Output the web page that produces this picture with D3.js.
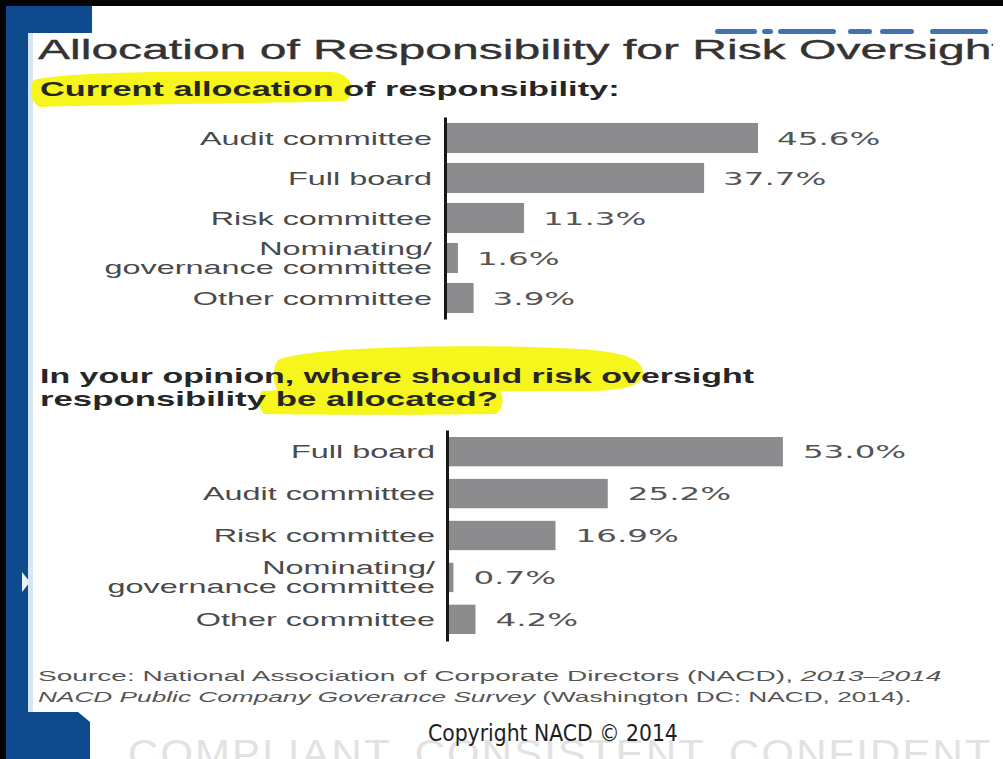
<!DOCTYPE html>
<html><head><meta charset="utf-8">
<script src="https://cdn.jsdelivr.net/npm/d3@7"></script>
<style>html,body{margin:0;padding:0;background:#fff;overflow:hidden}</style>
</head><body>
<svg id="c" width="1003" height="759"></svg>
<script>
// ---------- data ----------
const titleText = "Allocation of Responsibility for Risk Oversight";
const subtitle1 = "Current allocation of responsibility:";
const subtitle2Lines = ["In your opinion, where should risk oversight", "responsibility be allocated?"];
const currentCategories = ["Audit committee", "Full board", "Risk committee", "Nominating/\ngovernance committee", "Other committee"];
const currentValues = [45.6, 37.7, 11.3, 1.6, 3.9];
const preferredCategories = ["Full board", "Audit committee", "Risk committee", "Nominating/\ngovernance committee", "Other committee"];
const preferredValues = [53.0, 25.2, 16.9, 0.7, 4.2];
const sourceLine1 = [["Source: National Association of Corporate Directors (NACD), ", false], ["2013\u20132014", true]];
const sourceLine2 = [["NACD Public Company Goverance Survey", true], [" (Washington DC: NACD, 2014).", false]];
const copyrightText = "Copyright NACD \u00A9 2014";
const watermarkText = "COMPLIANT.  CONSISTENT.  CONFIDENT";

const svg = d3.select("#c");
const SANS = "'Liberation Sans', Arial, Helvetica, sans-serif";
const BLUE = "#0d4b8e";

// ---------- background / frame ----------
svg.append("rect").attr("width", 1003).attr("height", 759).attr("fill", "#fff");
svg.append("rect").attr("x", 28).attr("y", 33).attr("width", 5).attr("height", 679).attr("fill", "#d6e6f4");

function fit(sel, x, y, targetW) {
  const w = sel.node().getBBox().width;
  sel.attr("transform", `translate(${x},${y}) scale(${targetW / w},1)`);
  return sel;
}
// watermark
const wm = svg.append("text").attr("font-family", SANS).attr("font-size", 38).attr("fill", "#e2e2e2")
  .attr("letter-spacing", 2).text(watermarkText);
fit(wm, 128, 767, 865);

// ---------- highlights ----------
const hl = svg.append("g").attr("fill", "#f6f51c");
hl.append("path").attr("d", "M34,80 C70,71 200,71 332,72 C354,74 357,95 345,101 C250,104 120,104 40,107 C30,103 29,87 34,80 Z");
hl.append("path").attr("d", "M278,360 C300,349 420,344 530,347 C610,349 642,354 643,372 C644,388 620,392 560,391 C450,392 350,393 280,393 C272,386 272,368 278,360 Z");
hl.append("path").attr("d", "M262,391 C330,388 440,388 499,390 C505,397 503,410 496,414 C420,415 330,415 264,414 C257,406 257,397 262,391 Z");

// ---------- title ----------
svg.append("clipPath").attr("id", "tclip").append("rect").attr("x", 0).attr("y", 0).attr("width", 993).attr("height", 100);
const logoSegs = [[715, 757], [762, 773], [778, 836], [848, 872], [880, 914], [930, 988]];
svg.append("g").selectAll("rect").data(logoSegs).join("rect")
  .attr("x", d => d[0]).attr("y", 29).attr("width", d => d[1] - d[0]).attr("height", 5).attr("rx", 2.5)
  .attr("fill", "#2b63ad").attr("opacity", 0.9);
const title = svg.append("g").attr("clip-path", "url(#tclip)").append("text")
  .attr("font-family", SANS).attr("font-size", 27).attr("fill", "#333")
  .attr("stroke", "#333").attr("stroke-width", 0.35).text(titleText);
fit(title, 38, 59, 968);

// ---------- subtitles ----------
const st1 = svg.append("text").attr("font-family", SANS).attr("font-weight", "bold").attr("font-size", 20)
  .attr("fill", "#262626").text(subtitle1);
fit(st1, 40, 96, 580);
const st2w = [715, 458];
subtitle2Lines.forEach((l, i) => {
  const t = svg.append("text").attr("font-family", SANS).attr("font-weight", "bold").attr("font-size", 20)
    .attr("fill", "#262626").text(l);
  fit(t, 40, 383 + i * 23, st2w[i]);
});

// ---------- charts ----------
const SX = 1.8, SXV = 1.86;
const fmt = v => v.toFixed(1) + "%";
function drawChart(cats, vals, cfg) {
  const g = svg.append("g");
  const y = d3.scaleBand().domain(cats).range([cfg.y0, cfg.y1]).paddingInner(cfg.pi).paddingOuter(cfg.po);
  const x = d3.scaleLinear().domain([0, cfg.xMax]).range([cfg.x0, cfg.x1]);
  g.selectAll("rect.bar").data(cats).join("rect").attr("class", "bar")
    .attr("x", x(0)).attr("y", d => y(d))
    .attr("width", (d, i) => x(vals[i]) - x(0)).attr("height", y.bandwidth())
    .attr("fill", "#8c8c8f");
  const ax = g.append("g").attr("transform", `translate(${cfg.axisX},0)`)
    .call(d3.axisLeft(y).tickSize(0).tickSizeOuter(0).tickPadding(cfg.pad));
  ax.attr("font-size", 18).attr("font-family", SANS);
  ax.select(".domain").attr("stroke", "#161616").attr("stroke-width", 3);
  ax.selectAll(".tick text").each(function (d) {
    const t = d3.select(this);
    const lines = d.split("\n");
    t.text(null).attr("x", 0).attr("dy", null).attr("fill", "#4a4a4a")
      .attr("transform", `translate(${-cfg.pad},0) scale(${SX},1)`);
    if (lines.length === 1) t.append("tspan").attr("x", 0).attr("y", 6.5).text(lines[0]);
    else lines.forEach((l, i) => t.append("tspan").attr("x", 0).attr("y", i === 0 ? -3.5 : 15.5).text(l));
  });
  g.selectAll("text.val").data(cats).join("text").attr("class", "val")
    .attr("font-family", "'DejaVu Sans', Verdana, sans-serif").attr("font-size", 17.5).attr("fill", "#555")
    .attr("transform", (d, i) => `translate(${x(vals[i]) + cfg.gap},${y(d) + y.bandwidth() / 2 + 6.5}) scale(${SXV},1)`)
    .text((d, i) => fmt(vals[i]));
}
drawChart(currentCategories, currentValues, {y0: 117, y1: 319, pi: 0.25, po: 0.15, xMax: 50, x0: 447, x1: 788, axisX: 445, pad: 13, gap: 19});
drawChart(preferredCategories, preferredValues, {y0: 430, y1: 641, pi: 0.3, po: 0.167, xMax: 60, x0: 449, x1: 827, axisX: 447, pad: 12, gap: 20});

// ---------- source ----------
[[sourceLine1, 681, 904], [sourceLine2, 702, 874]].forEach(([parts, yy, w]) => {
  const t = svg.append("text").attr("font-family", SANS).attr("font-size", 15).attr("fill", "#555");
  parts.forEach(([s, it]) => t.append("tspan").attr("font-style", it ? "italic" : "normal").text(s));
  fit(t, 38, yy, w);
});

// copyright
const cp = svg.append("text").attr("font-family", "'Liberation Sans Narrow', 'DejaVu Sans Condensed', sans-serif")
  .attr("font-size", 23).attr("fill", "#1e1e1e").text(copyrightText);
fit(cp, 428, 741, 250);

// ---------- frame decorations ----------
svg.append("path").attr("fill", BLUE)
  .attr("d", "M6,6 H92 V33 H28 V712 H78 L90,722 V759 H6 Z");
svg.append("path").attr("fill", "#e8f0f8").attr("d", "M22,572 L30,582 L22,592 Z");
svg.append("rect").attr("x", 0).attr("y", 0).attr("width", 1003).attr("height", 6).attr("fill", "#050505");
svg.append("rect").attr("x", 0).attr("y", 0).attr("width", 6).attr("height", 759).attr("fill", "#050505");
</script>
</body></html>
